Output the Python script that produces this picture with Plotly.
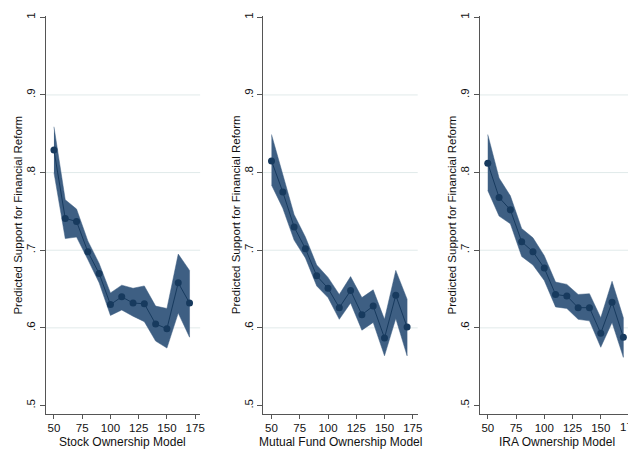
import plotly.graph_objects as go

x_vals = [50, 60, 70, 80, 90, 100, 110, 120, 130, 140, 150, 160, 170]

stock_est = [0.829, 0.741, 0.737, 0.698, 0.670, 0.630, 0.640, 0.632, 0.631, 0.605, 0.599, 0.658, 0.632]
stock_hi = [0.859, 0.765, 0.753, 0.712, 0.683, 0.645, 0.655, 0.651, 0.654, 0.628, 0.625, 0.695, 0.674]
stock_lo = [0.800, 0.715, 0.717, 0.688, 0.658, 0.616, 0.623, 0.615, 0.608, 0.583, 0.574, 0.619, 0.588]

mf_est = [0.815, 0.775, 0.730, 0.702, 0.667, 0.651, 0.626, 0.648, 0.617, 0.628, 0.587, 0.642, 0.601]
mf_hi = [0.849, 0.797, 0.746, 0.717, 0.681, 0.665, 0.643, 0.666, 0.639, 0.649, 0.611, 0.674, 0.637]
mf_lo = [0.784, 0.754, 0.713, 0.690, 0.654, 0.639, 0.611, 0.632, 0.597, 0.607, 0.564, 0.612, 0.564]

ira_est = [0.812, 0.768, 0.752, 0.711, 0.698, 0.677, 0.643, 0.641, 0.626, 0.626, 0.593, 0.633, 0.588]
ira_hi = [0.849, 0.793, 0.770, 0.728, 0.716, 0.693, 0.659, 0.656, 0.643, 0.644, 0.613, 0.660, 0.613]
ira_lo = [0.777, 0.744, 0.734, 0.692, 0.681, 0.661, 0.627, 0.625, 0.611, 0.609, 0.575, 0.607, 0.562]

panel_titles = ["Stock Ownership Model", "Mutual Fund Ownership Model", "IRA Ownership Model"]
y_title = "Predicted Support for Financial Reform"
x_ticks = [50, 75, 100, 125, 150, 175]
y_ticks = [0.5, 0.6, 0.7, 0.8, 0.9, 1.0]
y_ticktext = [".5", ".6", ".7", ".8", ".9", "1"]

# page body has an 8px default margin; figure is sized to fill the remaining window
OFF = 8
W, H = 636 - OFF, 454 - OFF
FILL = "#3e5f83"
NAVY = "#173a5e"
AXC = "#555555"
GRID = "#e1eaea"
TXT = "#111111"
FONT = "Liberation Sans, Arial, sans-serif"

series = [(stock_est, stock_hi, stock_lo), (mf_est, mf_hi, mf_lo), (ira_est, ira_hi, ira_lo)]

# pixel layout (window coordinates) of each panel's plot area
left_px = [46.0, 265.3, 483.3]
right_px = [201.7, 421.0, 636.0]
px_per_unit = 1.139
x0 = 42.7
top_px, bot_px = 12.0, 413.3
y_range = [0.4895, 1.0017]


def fx(px):
    return (px - OFF) / W


def fy(py):
    return 1 - (py - OFF) / H


fig = go.Figure()
for i, (est, hi, lo) in enumerate(series):
    sfx = "" if i == 0 else str(i + 1)
    xa, ya = "x" + sfx, "y" + sfx
    fig.add_trace(go.Scatter(
        x=x_vals + x_vals[::-1], y=hi + lo[::-1], fill="toself", fillcolor=FILL,
        line=dict(color=FILL, width=0.5), mode="lines", hoverinfo="skip",
        showlegend=False, xaxis=xa, yaxis=ya))
    fig.add_trace(go.Scatter(
        x=x_vals, y=est, mode="lines+markers",
        line=dict(color=NAVY, width=1), marker=dict(color=NAVY, size=7),
        showlegend=False, xaxis=xa, yaxis=ya))

    dom = [fx(left_px[i]), min(1.0, fx(right_px[i]))]
    xr = [x0, x0 + (right_px[i] - left_px[i]) / px_per_unit]
    fig.layout["xaxis" + sfx] = dict(
        domain=dom, range=xr, anchor=ya, tickvals=x_ticks,
        showgrid=False, zeroline=False, showline=True, linecolor=AXC, linewidth=1,
        ticks="outside", ticklen=4, tickcolor=AXC, tickwidth=1,
        tickfont=dict(family=FONT, size=11.5, color=TXT))
    fig.layout["yaxis" + sfx] = dict(
        domain=[fy(bot_px), fy(top_px)], range=y_range, anchor=xa,
        tickvals=y_ticks, ticktext=y_ticktext, tickangle=-90,
        showgrid=False, zeroline=False, showline=True, linecolor=AXC, linewidth=1,
        ticks="outside", ticklen=5, tickcolor=AXC, tickwidth=1,
        tickfont=dict(family=FONT, size=11.5, color=TXT))
    for g in y_ticks[1:-1]:
        fig.add_shape(type="line", xref=xa + " domain", yref=ya, x0=0, x1=1, y0=g, y1=g,
                      line=dict(color=GRID, width=1), layer="below")
    fig.add_annotation(text=panel_titles[i], xref="paper", yref="paper",
                       x=fx((left_px[i] + left_px[i] + 155.7) / 2),
                       y=fy(441.5), showarrow=False,
                       font=dict(family=FONT, size=12, color=TXT),
                       xanchor="center", yanchor="middle")
    fig.add_annotation(text=y_title, xref="paper", yref="paper",
                       x=fx(left_px[i] - 28), y=fy(212.5), textangle=-90,
                       showarrow=False, font=dict(family=FONT, size=11.5, color=TXT),
                       xanchor="center", yanchor="middle")

# last x tick label of the right panel runs past the window edge (as in the source);
# plotly drops it automatically, so draw it as a text label at its tick position
fig.add_annotation(text=str(x_ticks[-1]), xref="x3", yref="paper", x=x_ticks[-1],
                   y=fy(426.8), showarrow=False, xanchor="center", yanchor="middle",
                   font=dict(family=FONT, size=11.5, color=TXT))

fig.update_layout(width=W, height=H, margin=dict(l=0, r=0, t=0, b=0),
                  paper_bgcolor="white", plot_bgcolor="white")
fig.write_html("out.html")
